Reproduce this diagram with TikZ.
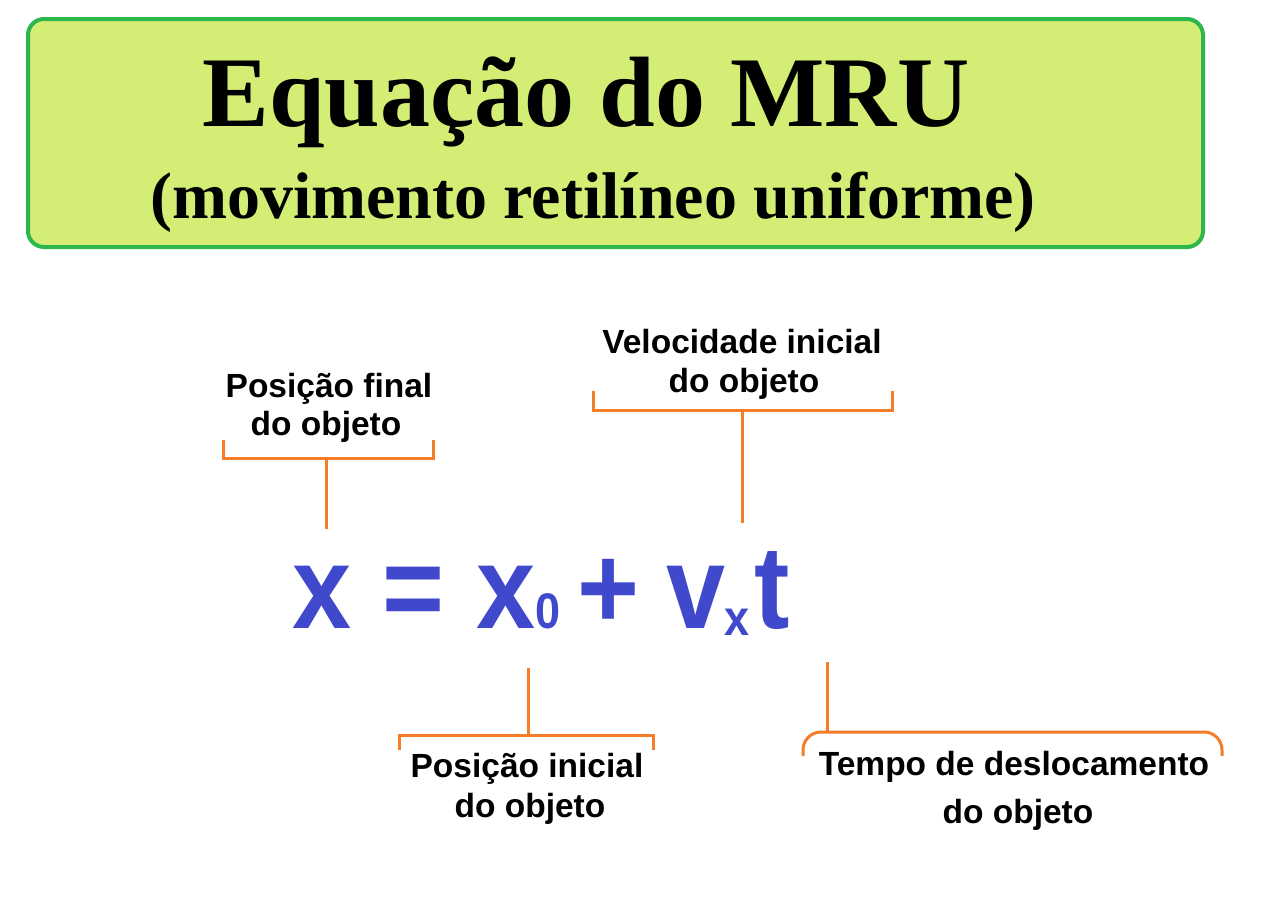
\documentclass[tikz,border=0pt]{standalone}
\usepackage{fontspec}
\setmainfont{Liberation Serif}
\setsansfont{Liberation Sans}
\definecolor{boxfill}{RGB}{212,237,116}
\definecolor{boxline}{RGB}{44,182,76}
\definecolor{eqblue}{RGB}{64,72,204}
\definecolor{brorange}{RGB}{245,125,40}
\newcommand{\eqsubtext}[2]{\raisebox{#1}{\fontsize{50}{50}\selectfont\scalebox{0.9}[1]{#2}}}
\tikzset{
  ttl/.style={font=\rmfamily\bfseries\fontsize{100}{100}\selectfont, anchor=base, inner sep=0},
  subttl/.style={font=\rmfamily\bfseries\fontsize{66}{66}\selectfont, anchor=base, inner sep=0},
  lbl/.style={font=\sffamily\bfseries\fontsize{33.5}{33.5}\selectfont, anchor=base, inner sep=0},
  eqbig/.style={font=\sffamily\bfseries\fontsize{118}{118}\selectfont, text=eqblue, anchor=base, inner sep=0},
  brk/.style={draw=brorange, line width=3pt},
}
\begin{document}
\begin{tikzpicture}[x=1pt,y=-1pt]
\useasboundingbox (0,0) rectangle (1263,911);
% title box
\draw[boxline, fill=boxfill, line width=4pt, rounded corners=16pt] (28,19) rectangle (1203,247);
\node[ttl] (title) at (586,126) {Equação do MRU};
\node[subttl] (subtitle) at (593,218) {(movimento retilíneo uniforme)};
% equation
\node[eqbig] (ex) at (322,628) {\scalebox{0.9}[1]{x}};
\node[eqbig] (eq) at (414,628) {\scalebox{0.9}[1]{=}};
\node[eqbig, anchor=base west] (ex0) at (476,628) {\scalebox{0.9}[1]{x}\eqsubtext{0pt}{0}};
\node[eqbig] (plus) at (609,628) {\scalebox{0.9}[1]{+}};
\node[eqbig, anchor=base west] (ev) at (666,628) {\scalebox{0.9}[1]{v}\kern-0.5pt\eqsubtext{-7pt}{x}};
\node[eqbig] (et) at (772,628) {\scalebox{0.9}[1]{t}};
% labels
\node[lbl] (pf1) at (329,397) {Posição final};
\node[lbl] (pf2) at (326,435) {do objeto};
\node[lbl] (vi1) at (742,353) {Velocidade inicial};
\node[lbl] (vi2) at (744,392) {do objeto};
\node[lbl] (pi1) at (527,777) {Posição inicial};
\node[lbl] (pi2) at (530,817) {do objeto};
\node[lbl] (td1) at (1014,775) {Tempo de deslocamento};
\node[lbl] (td2) at (1018,823) {do objeto};
% bracket coordinates
\coordinate (b1m) at (326,458);
\coordinate (b1e) at (326,529);
\coordinate (b2m) at (742,410);
\coordinate (b2e) at (742,523);
\coordinate (b3m) at (528,735);
\coordinate (b3e) at (528,668);
\coordinate (b4m) at (827,732);
\coordinate (b4e) at (827,662);
% brackets
\draw[brk] (223,440) -- (223,458) -- (433,458) -- (433,440);
\draw[brk] (b1m) -- (b1e);
\draw[brk] (593,391) -- (593,410) -- (892,410) -- (892,391);
\draw[brk] (b2m) -- (b2e);
\draw[brk] (399,750) -- (399,735) -- (653,735) -- (653,750);
\draw[brk] (b3m) -- (b3e);
\draw[brk, rounded corners=18pt] (803,756) -- (803,732) -- (1222,732) -- (1222,756);
\draw[brk] (b4m) -- (b4e);
\end{tikzpicture}
\end{document}
